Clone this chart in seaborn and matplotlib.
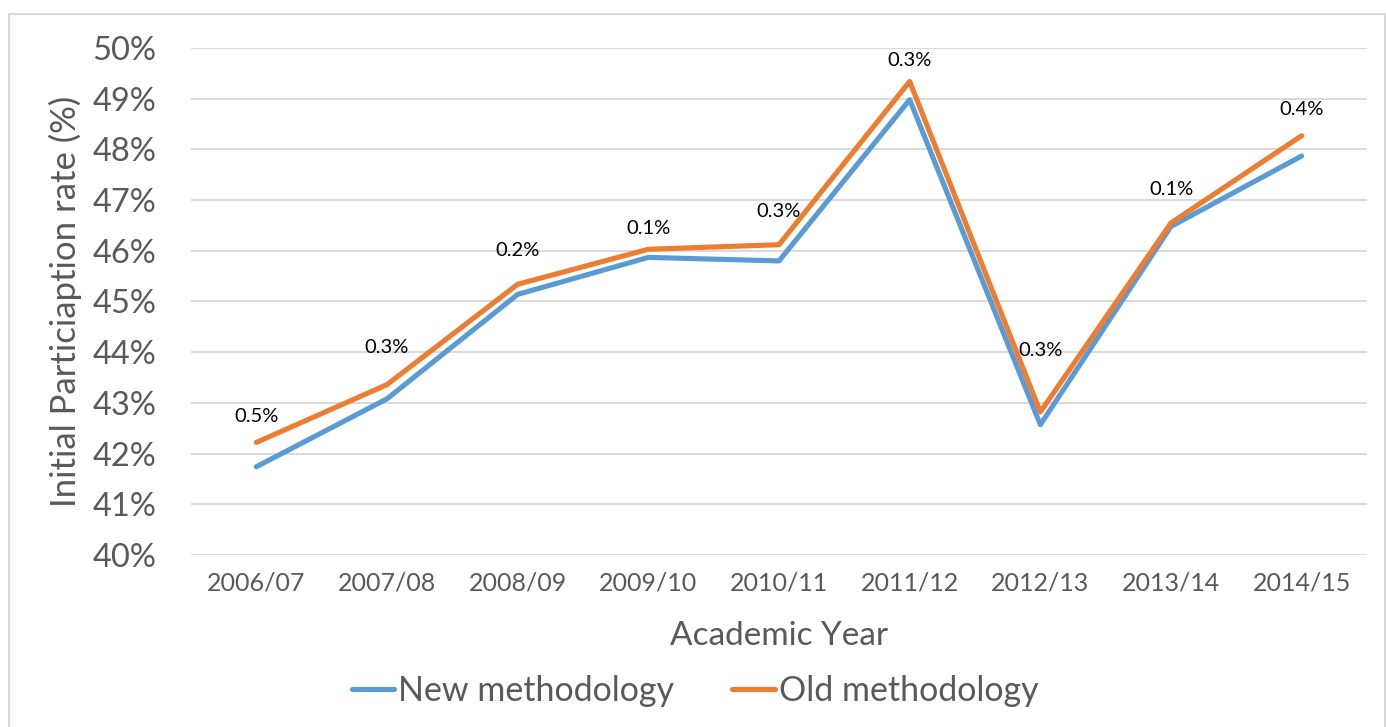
import matplotlib
matplotlib.use("Agg")
import matplotlib.pyplot as plt
import seaborn as sns
import pandas as pd
from matplotlib.patches import Rectangle
from matplotlib.ticker import FuncFormatter

years = ["2006/07", "2007/08", "2008/09", "2009/10", "2010/11",
         "2011/12", "2012/13", "2013/14", "2014/15"]
new_method = [41.74, 43.08, 45.14, 45.87, 45.80, 48.98, 42.57, 46.48, 47.87]
old_method = [42.22, 43.36, 45.34, 46.03, 46.12, 49.34, 42.82, 46.55, 48.27]
gap_labels = [0.5, 0.3, 0.2, 0.1, 0.3, 0.3, 0.3, 0.1, 0.4]
series_names = ["New methodology", "Old methodology"]
y_ticks = [40, 41, 42, 43, 44, 45, 46, 47, 48, 49, 50]

df = pd.DataFrame({
    "year": years * 2,
    "x": list(range(len(years))) * 2,
    "value": new_method + old_method,
    "series": [series_names[0]] * len(years) + [series_names[1]] * len(years),
})

sns.set_theme(style="white")
plt.rcParams["font.family"] = ["Lato", "DejaVu Sans"]

GRAY = "#595959"
fig = plt.figure(figsize=(13.86, 7.27), dpi=100)
fig.patch.set_facecolor("white")
ax = fig.add_axes([0.1378, 0.2366, 0.8485, 0.6974])

palette = {series_names[0]: "#5B9BD5", series_names[1]: "#ED7D31"}
sns.lineplot(data=df, x="x", y="value", hue="series", palette=palette,
             linewidth=3.7, ax=ax, legend=False, sort=False)

ax.set_xlim(-0.5, len(years) - 0.5)
ax.set_ylim(40, 50)
ax.set_yticks(y_ticks)
ax.yaxis.set_major_formatter(FuncFormatter(lambda v, p: f"{v:.0f}%"))
ax.set_xticks(range(len(years)))
ax.set_xticklabels(years)
ax.grid(axis="y", color="#D9D9D9", linewidth=1.4)
ax.set_axisbelow(True)
for s in ax.spines.values():
    s.set_visible(False)
ax.tick_params(axis="y", labelsize=23.5, labelcolor=GRAY, length=0, pad=25)
ax.tick_params(axis="x", labelsize=18, labelcolor=GRAY, length=0, pad=12)

ax.set_ylabel("Initial Particiaption rate (%)", fontsize=25, color=GRAY)
ax.set_xlabel("Academic Year", fontsize=24, color=GRAY)
ax.yaxis.set_label_coords(-0.093, 0.5)
ax.xaxis.set_label_coords(0.5, -0.13)

label_offsets = [19, 27, 24, 15, 24, 15, 44, 24, 19]
for i, (v, g) in enumerate(zip(old_method, gap_labels)):
    ax.annotate(f"{g:.1f}%", xy=(i, v), xytext=(0, label_offsets[i]),
                textcoords="offset points", ha="center", va="center",
                fontsize=14.5, color="black")

handles = [plt.Line2D([0], [0], color=palette[n], linewidth=3.7) for n in series_names]
fig.legend(handles, series_names, loc="center", bbox_to_anchor=(0.5015, 0.0495),
           ncol=2, frameon=False, fontsize=24.5, handlelength=1.25,
           handletextpad=0.12, columnspacing=1.7, labelcolor=GRAY)

fig.patches.append(Rectangle((9 / 1386, -0.01), 1376 / 1386, 1 - 14 / 727 + 0.01,
                             transform=fig.transFigure, fill=False,
                             edgecolor="#D9D9D9", linewidth=1.5))

fig.savefig("out.png", dpi=100, facecolor="white")
